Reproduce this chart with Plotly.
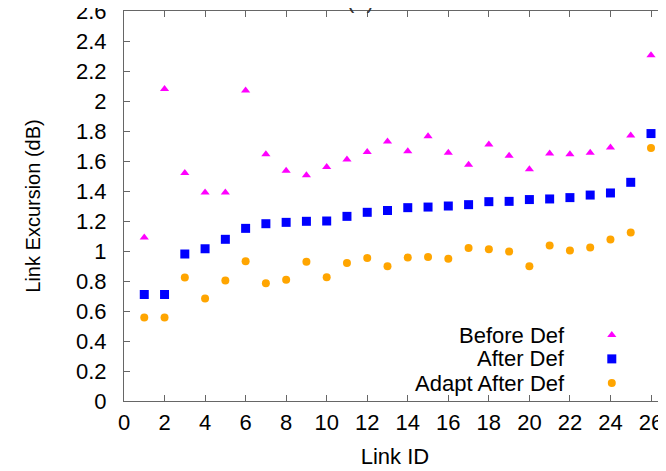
import plotly.graph_objects as go

link_id = list(range(1, 27))
before_def = [1.09, 2.08, 1.52, 1.39, 1.39, 2.07, 1.645, 1.535, 1.505, 1.56,
              1.61, 1.66, 1.73, 1.665, 1.765, 1.655, 1.575, 1.71, 1.635, 1.545,
              1.65, 1.645, 1.655, 1.69, 1.77, 2.305]
after_def = [0.71, 0.71, 0.98, 1.015, 1.078, 1.151, 1.182, 1.191, 1.198, 1.2,
             1.231, 1.258, 1.27, 1.289, 1.293, 1.3, 1.309, 1.329, 1.331, 1.343,
             1.347, 1.356, 1.373, 1.387, 1.458, 1.783]
adapt_after_def = [0.556, 0.556, 0.823, 0.683, 0.803, 0.931, 0.785, 0.809, 0.929, 0.825,
                   0.92, 0.953, 0.898, 0.956, 0.96, 0.949, 1.02, 1.011, 0.996, 0.898,
                   1.036, 1.003, 1.023, 1.076, 1.123, 1.687]
y_tick_vals = [0, 0.2, 0.4, 0.6, 0.8, 1, 1.2, 1.4, 1.6, 1.8, 2, 2.2, 2.4, 2.6]
y_tick_text = ["0", "0.2", "0.4", "0.6", "0.8", "1", "1.2", "1.4", "1.6", "1.8",
               "2", "2.2", "2.4", "2.6"]

series_names = ["Before Def", "After Def", "Adapt After Def"]
series_colors = ["#ff00ff", "#0000ff", "#ffa500"]
series_symbols = ["triangle-up", "square", "circle"]
series_sizes = [8, 9, 8]
series_values = [before_def, after_def, adapt_after_def]

FONT = "Liberation Sans, Arial, sans-serif"
AXC = "#666666"
HS = 22  # horizontal text size

fig = go.Figure()
for name, vals, col, sym, sz in zip(series_names, series_values, series_colors,
                                    series_symbols, series_sizes):
    fig.add_trace(go.Scatter(x=link_id, y=vals, mode="markers", name=name,
                             marker=dict(color=col, symbol=sym, size=sz, line=dict(width=0)),
                             showlegend=False))

# custom legend (text right-aligned, key symbol to its right, gnuplot style)
legend_rows_y = [0.169, 0.108, 0.046]  # fractions of the plot height
legend_text_x = 0.817
legend_key_x = 0.900
for i, (name, col, sym, sz) in enumerate(zip(series_names, series_colors,
                                             series_symbols, series_sizes)):
    fig.add_annotation(text=name, xref="x2", yref="y2", x=legend_text_x, y=legend_rows_y[i],
                       xanchor="right", yanchor="middle", showarrow=False,
                       font=dict(family=FONT, size=HS, color="black"))
    fig.add_trace(go.Scatter(x=[legend_key_x], y=[legend_rows_y[i]], mode="markers",
                             xaxis="x2", yaxis="y2", showlegend=False, hoverinfo="skip",
                             marker=dict(color=col, symbol=sym, size=sz, line=dict(width=0))))

fig.add_annotation(text="(a)", xref="paper", yref="paper", x=0.437, y=1,
                   yshift=-4, xanchor="center", yanchor="bottom", showarrow=False,
                   font=dict(family=FONT, size=22, color="#333333"))

fig.update_layout(
    width=658, height=463,
    margin=dict(l=116, r=0, t=3, b=70, autoexpand=False),
    plot_bgcolor="white", paper_bgcolor="white",
    font=dict(family=FONT, size=HS, color="black"),
    xaxis=dict(range=[0, 26.74], dtick=2, tick0=0, ticks="inside", ticklen=6,
               tickcolor=AXC, showline=True, linecolor=AXC, linewidth=1, mirror="ticks",
               showgrid=False, zeroline=False, ticklabelstandoff=2,
               ticklabeloverflow="allow", automargin=False,
               tickfont=dict(size=HS),
               title=dict(text="Link ID", standoff=14, font=dict(size=HS))),
    yaxis=dict(range=[0, 2.6001], tickmode="array", tickvals=y_tick_vals,
               ticktext=y_tick_text, ticks="inside", ticklen=6,
               tickcolor=AXC, showline=True, linecolor=AXC, linewidth=1, mirror="ticks",
               showgrid=False, zeroline=False, ticklabelstandoff=12,
               ticklabeloverflow="allow", automargin=False,
               tickfont=dict(size=HS),
               title=dict(text="Link Excursion (dB)", standoff=30, font=dict(size=20))),
    xaxis2=dict(range=[0, 1], overlaying="x", visible=False),
    yaxis2=dict(range=[0, 1], overlaying="y", visible=False),
)

fig.write_html("out.html")
